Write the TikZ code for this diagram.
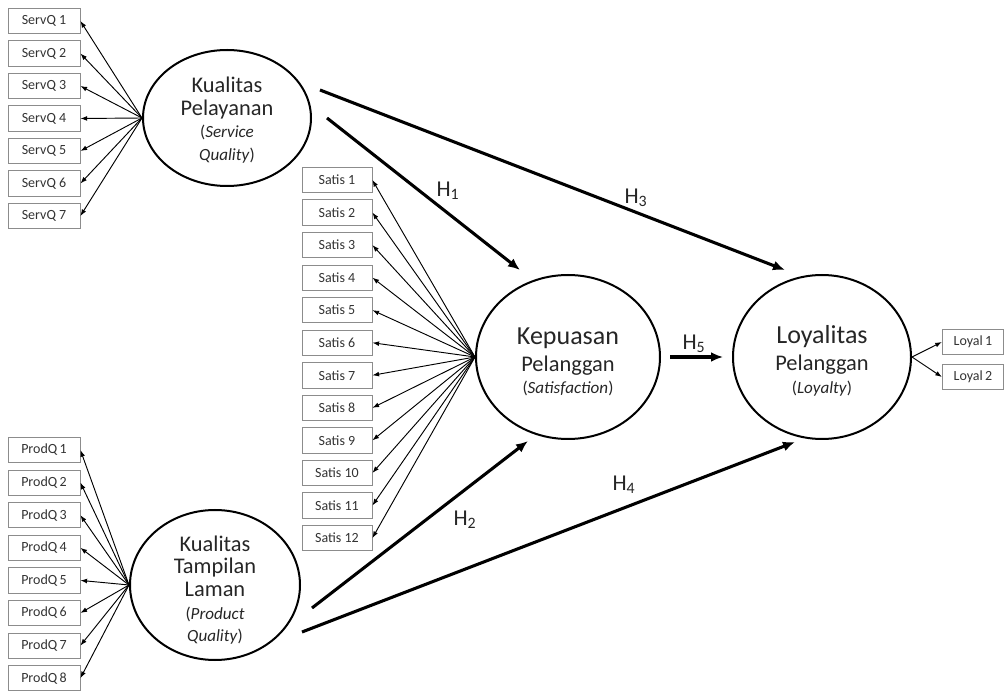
\documentclass[tikz,border=0pt]{standalone}
\usepackage{fontspec}
\setmainfont{Carlito}
\usetikzlibrary{shapes.geometric,arrows.meta}

\newcommand{\cfont}[2]{\fontsize{#1}{#2}\selectfont}
\newcommand{\bigln}[1]{\cfont{16.8}{17}#1}
\newcommand{\itln}[1]{\cfont{12.8}{15.5}#1}

\tikzset{
  construct/.style={draw, ellipse, line width=1.5pt, inner sep=0pt},
  cname/.style={align=center, text=black!85, font=\cfont{16.5}{17}},
  indbox/.style={draw=black!45, line width=0.6pt, minimum width=54pt, minimum height=19pt,
    inner sep=0pt, text=black!80, font=\cfont{10.5}{11}},
  loading/.style={-{Latex[length=5pt,width=3.6pt]}, line width=0.7pt},
  hyp/.style={-{Latex[length=9pt,width=7.5pt]}, line width=2.3pt},
  hlabel/.style={font=\cfont{17}{20}, text=black!85},
}

\begin{document}
\begin{tikzpicture}[x=0.75pt,y=-0.75pt]
    \useasboundingbox (0,0) rectangle (1004,691);

    % latent variables
    \node[construct, minimum width=126pt, minimum height=102pt] (kp)  at (227,118) {};
    \node[construct, minimum width=127.5pt, minimum height=112.5pt] (ktl) at (215,585) {};
    \node[construct, minimum width=138pt, minimum height=123pt] (kep) at (568,357) {};
    \node[construct, minimum width=133.5pt, minimum height=123pt] (loy) at (822,357) {};

    \node[cname] (kp-txt) at (227,120)
      {\bigln{Kualitas}\\\bigln{Pelayanan}\\\itln{(\textit{Service}}\\\itln{\textit{Quality})}};
    \node[cname] (ktl-txt) at (215,590)
      {\bigln{Kualitas}\\\bigln{Tampilan}\\\bigln{Laman}\\\itln{(\textit{Product}}\\\itln{\textit{Quality})}};
    \node[cname] (kep-txt) at (568,362)
      {\cfont{19.5}{21}Kepuasan\\[3pt]\bigln{Pelanggan}\\\itln{(\textit{Satisfaction})}};
    \node[cname] (loy-txt) at (822,361)
      {\cfont{19.5}{21}Loyalitas\\[3pt]\bigln{Pelanggan}\\\itln{(\textit{Loyalty})}};

    % indicators
    \foreach \i in {1,...,7}{%
      \node[indbox] (sq\i) at (44,{21+32.5*(\i-1)}) {ServQ \i};
      \draw[loading] (kp.west) -- (sq\i.east);
    }
    \foreach \i in {1,...,12}{%
      \node[indbox, minimum width=52.5pt] (sat\i) at (337,{180+32.55*(\i-1)}) {Satis \i};
      \draw[loading] (kep.west) -- (sat\i.east);
    }
    \foreach \i in {1,...,8}{%
      \node[indbox] (pq\i) at (44,{450+32.6*(\i-1)}) {ProdQ\,\i};
      \draw[loading] (ktl.west) -- (pq\i.east);
    }
    \foreach \i/\y in {1/342,2/377}{%
      \node[indbox, minimum width=46pt] (ly\i) at (973,\y) {Loyal\,\i};
      \draw[loading] (loy.east) -- (ly\i.west);
    }

    % hypotheses
    \coordinate (h1a) at (327,118);  \coordinate (h1b) at (520,270);
    \coordinate (h2a) at (312,608);  \coordinate (h2b) at (528,441);
    \coordinate (h3a) at (320,90);   \coordinate (h3b) at (785,270);
    \coordinate (h4a) at (302,632);  \coordinate (h4b) at (795,442);
    \coordinate (h5a) at (670,357);  \coordinate (h5b) at (723,357);
    \foreach \h in {1,...,5}
      \draw[hyp] (h\h a) -- (h\h b);

    \node[hlabel] (lh1) at (448,191) {H\textsubscript{1}};
    \node[hlabel] (lh2) at (465,520) {H\textsubscript{2}};
    \node[hlabel] (lh3) at (636,198) {H\textsubscript{3}};
    \node[hlabel] (lh4) at (624,485) {H\textsubscript{4}};
    \node[hlabel] (lh5) at (694,344) {H\textsubscript{5}};
\end{tikzpicture}
\end{document}
